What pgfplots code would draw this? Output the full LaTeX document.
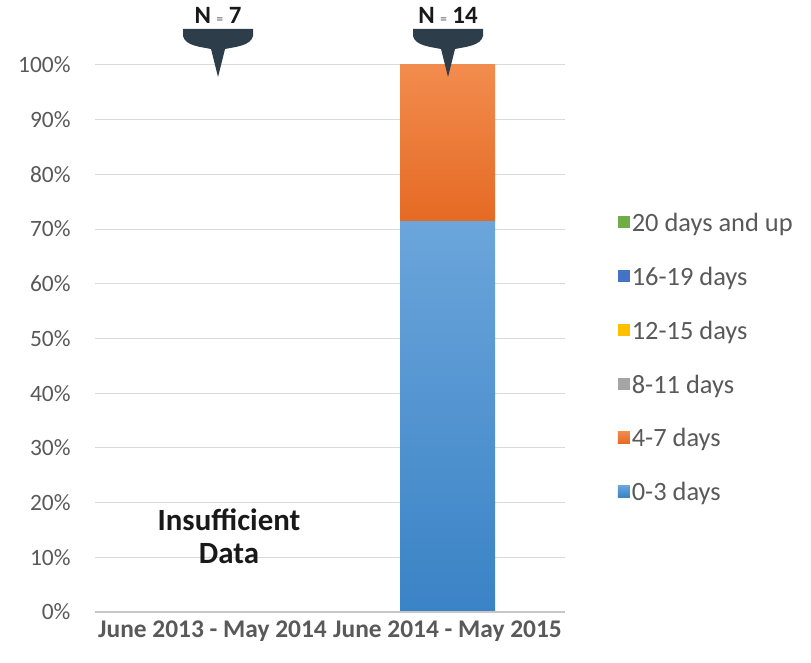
\documentclass[border=0pt]{standalone}
\usepackage{pgfplots}
\pgfplotsset{compat=1.18}
\usepackage{fontspec}
\setmainfont{Carlito}
\definecolor{cBlueT}{HTML}{6BA5DB}
\definecolor{cBlueB}{HTML}{3A83C6}
\definecolor{cOrangeT}{HTML}{F28C4E}
\definecolor{cOrangeB}{HTML}{E56A24}
\definecolor{cBlue}{HTML}{5B9BD5}
\definecolor{cOrange}{HTML}{ED7D31}
\definecolor{cGray}{HTML}{A5A5A5}
\definecolor{cYellow}{HTML}{FFC000}
\definecolor{cDBlue}{HTML}{4472C4}
\definecolor{cGreen}{HTML}{70AD47}
\definecolor{txtGray}{HTML}{595959}
\definecolor{gridGray}{HTML}{D9D9D9}
\definecolor{nShape}{HTML}{2D3E4A}
\newcommand{\nshape}[1]{%
  \fill[nShape] ({#1-35bp},{(663-29)*1bp}) -- ({#1+35bp},{(663-29)*1bp})
    -- ({#1+35bp},{(663-36)*1bp}) .. controls ({#1+33bp},{(663-46)*1bp}) and ({#1+16bp},{(663-47)*1bp}) .. ({#1+7bp},{(663-49)*1bp})
    -- ({#1},{(663-77)*1bp})
    -- ({#1-7bp},{(663-49)*1bp}) .. controls ({#1-16bp},{(663-47)*1bp}) and ({#1-33bp},{(663-46)*1bp}) .. ({#1-35bp},{(663-36)*1bp})
    -- cycle;}
\begin{document}
\begin{tikzpicture}
\useasboundingbox (0,0) rectangle (811bp,663bp);
\begin{axis}[
  at={(95bp,51bp)}, anchor=south west,
  scale only axis, width=470bp, height=547bp,
  xmin=-0.5, xmax=1.5, ymin=0, ymax=100,
  ybar stacked, bar width=95bp,
  xtick={0,1}, xticklabels={June 2013 - May 2014, June 2014 - May 2015},
  ytick={0,10,...,100},
  yticklabel={\pgfmathprintnumber{\tick}\%},
  /pgf/number format/assume math mode=true,
  tick style={draw=none},
  ymajorgrids, grid style={gridGray, line width=1bp},
  axis line style={draw=none},
  yticklabel style={font=\fontsize{23.5}{26}\selectfont, text=txtGray, xshift=-21bp},
  xticklabel style={font=\bfseries\fontsize{25.5}{30}\selectfont, text=txtGray, yshift=-5bp},
  clip=false,
  legend cell align=left,
  reverse legend,
  legend style={draw=none, fill=none, at={(1.112,0.733)}, anchor=north west,
    font=\fontsize{26.5}{30}\selectfont, text=txtGray,
    /tikz/every even column/.append style={column sep=7bp},
    row sep=30bp, inner sep=0pt},
  legend image code/.code={\fill[#1] (0bp,-5bp) rectangle (12bp,7bp);},
]
\draw[color=gridGray!80!gray, line width=1.2bp] (axis cs:-0.5,0) -- (axis cs:1.5,0);
\addplot[draw=none, fill=cBlue, top color=cBlueT, bottom color=cBlueB] coordinates {(1,71.4)};
\addlegendentry{0-3 days}
\addplot[draw=none, fill=cOrange, top color=cOrangeT, bottom color=cOrangeB] coordinates {(1,28.6)};
\addlegendentry{4-7 days}
\addplot[draw=none, fill=cGray] coordinates {(1,0)};
\addlegendentry{8-11 days}
\addplot[draw=none, fill=cYellow] coordinates {(1,0)};
\addlegendentry{12-15 days}
\addplot[draw=none, fill=cDBlue] coordinates {(1,0)};
\addlegendentry{16-19 days}
\addplot[draw=none, fill=cGreen] coordinates {(1,0)};
\addlegendentry{20 days and up}
\node[font=\bfseries\fontsize{26}{30}\selectfont, text=black!80] at (axis cs:1,85.7) {28.6\%};
\node[font=\bfseries\fontsize{26}{30}\selectfont, text=black!80] at (axis cs:1,35.7) {71.4\%};
\node[font=\bfseries\fontsize{31}{33}\selectfont, text=black!90, align=center] at (axis cs:0.07,13.8) {Insufficient\\Data};
\end{axis}
\nshape{218bp}
\nshape{448bp}
\node[font=\bfseries\fontsize{25}{28}\selectfont, text=black!90] at (218bp,{(663-15)*1bp}) {N \textcolor{gray}{\fontsize{13}{14}\selectfont =} 7};
\node[font=\bfseries\fontsize{25}{28}\selectfont, text=black!90] at (448bp,{(663-15)*1bp}) {N \textcolor{gray}{\fontsize{13}{14}\selectfont =} 14};
\end{tikzpicture}
\end{document}
